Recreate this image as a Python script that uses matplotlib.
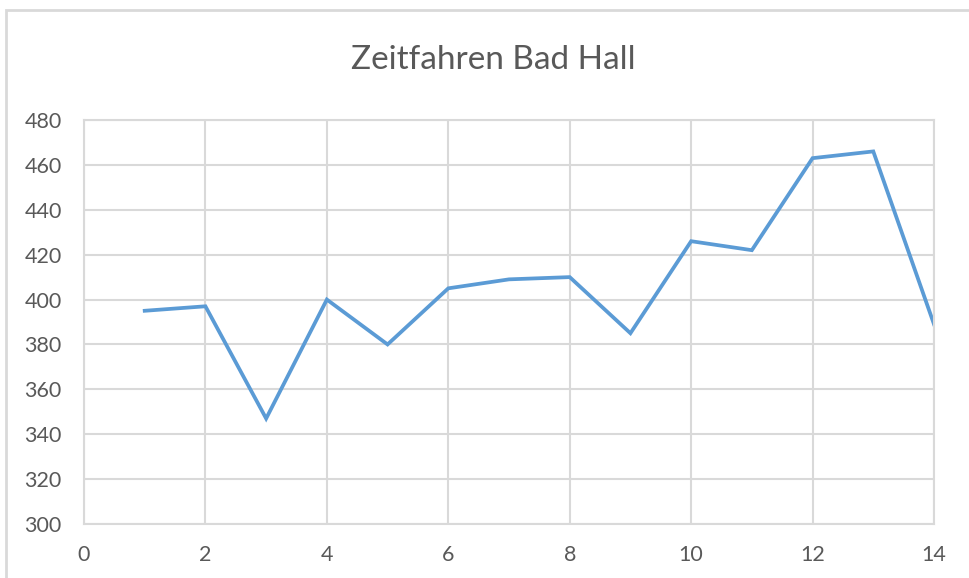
import matplotlib.pyplot as plt
from matplotlib.patches import Rectangle

runs = [1, 2, 3, 4, 5, 6, 7, 8, 9, 10, 11, 12, 13, 14]
times = [395, 397, 347, 400, 380, 405, 409, 410, 385, 426, 422, 463, 466, 389]
x_ticks = [0, 2, 4, 6, 8, 10, 12, 14]
y_ticks = [300, 320, 340, 360, 380, 400, 420, 440, 460, 480]

plt.rcParams['font.family'] = ['Lato', 'DejaVu Sans']
grey = '#595959'
grid = '#D9D9D9'

fig = plt.figure(figsize=(9.7, 5.78), dpi=100)
ax = fig.add_axes([84 / 970, 1 - 524 / 578, 850 / 970, 404 / 578])

# outer chart frame, cut off at right and bottom like the screenshot
fig.patches.append(Rectangle((6 / 970, -0.1), 1.2, 1 - 10 / 578 + 0.1,
                             transform=fig.transFigure, fill=False,
                             edgecolor=grid, linewidth=2))

ax.plot(runs, times, color='#5B9BD5', linewidth=2.7, solid_joinstyle='miter', clip_on=True)
ax.set_xlim(0, 14)
ax.set_ylim(300, 480)
ax.set_xticks(x_ticks)
ax.set_yticks(y_ticks)
ax.grid(True, color=grid, linewidth=1.5)
ax.set_axisbelow(True)
for s in ax.spines.values():
    s.set_color(grid)
    s.set_linewidth(1.5)
ax.tick_params(length=0, labelsize=15.5, labelcolor=grey, pad=15)
ax.tick_params(axis='y', pad=16)

fig.text(493 / 970, 1 - 60 / 578, 'Zeitfahren Bad Hall', ha='center', va='center',
         fontsize=24, color=grey)

fig.savefig('out.png', dpi=100)
